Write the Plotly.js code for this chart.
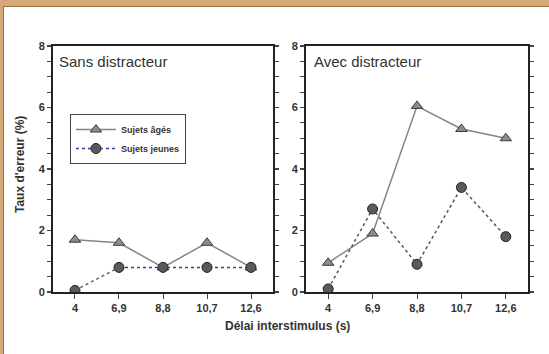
<!DOCTYPE html>
<html>
<head>
<meta charset="utf-8">
<script src="https://cdn.plot.ly/plotly-3.0.1.min.js"></script>
<style>
html,body{margin:0;padding:0;background:#D4A877;width:549px;height:354px;overflow:hidden;}
#wrap{position:absolute;left:3px;top:6px;width:546px;height:348px;background:#fff;border-top:1px solid #9c7040;border-left:1px solid #9c7040;}
#plot{position:absolute;left:0;top:0;width:545px;height:347px;}
</style>
</head>
<body>
<div id="wrap"><div id="plot"></div></div>
<script>
const categories = ["4", "6,9", "8,8", "10,7", "12,6"];
const sansAges = [1.7, 1.6, 0.8, 1.6, 0.8];
const sansJeunes = [0.05, 0.8, 0.8, 0.8, 0.8];
const avecAges = [0.95, 1.9, 6.05, 5.3, 5.0];
const avecJeunes = [0.1, 2.7, 0.9, 3.4, 1.8];
const yTicks = [0, 2, 4, 6, 8];
const yMinorTicks = [0.5, 1, 1.5, 2.5, 3, 3.5, 4.5, 5, 5.5, 6.5, 7, 7.5];
const legendNames = ["Sujets âgés", "Sujets jeunes"];
const panelTitles = ["Sans distracteur", "Avec distracteur"];
const xTitle = "Délai interstimulus (s)";
const yTitle = "Taux d'erreur (%)";

const triMarker = {symbol: "triangle-up", size: 10, color: "#8c8c8c", line: {color: "#3a3a3a", width: 1}};
const circMarker = {symbol: "circle", size: 10, color: "#5a5a5a", line: {color: "#222", width: 1}};

const traces = [
  {x: categories, y: sansAges, xaxis: "x", yaxis: "y", mode: "lines+markers", name: legendNames[0],
   line: {color: "#858585", width: 1.5}, marker: triMarker},
  {x: categories.slice(0, 2), y: sansJeunes.slice(0, 2), xaxis: "x", yaxis: "y", mode: "lines", showlegend: false,
   line: {color: "#666", width: 1.5, dash: "dot"}, hoverinfo: "skip"},
  {x: categories.slice(1), y: sansJeunes.slice(1), xaxis: "x", yaxis: "y", mode: "lines", showlegend: false,
   line: {color: "#3a3aa8", width: 1.5, dash: "dot"}},
  {x: categories, y: sansJeunes, xaxis: "x", yaxis: "y", mode: "markers", name: legendNames[1], showlegend: false,
   marker: circMarker},
  {x: [null], y: [null], xaxis: "x", yaxis: "y", mode: "lines+markers", name: legendNames[1],
   line: {color: "#3a3aa8", width: 1.5, dash: "dot"}, marker: circMarker},
  {x: categories, y: avecAges, xaxis: "x2", yaxis: "y2", mode: "lines+markers", showlegend: false,
   line: {color: "#858585", width: 1.5}, marker: triMarker},
  {x: categories, y: avecJeunes, xaxis: "x2", yaxis: "y2", mode: "lines+markers", showlegend: false,
   line: {color: "#555", width: 1.5, dash: "dot"}, marker: circMarker}
];

const fam = "Liberation Sans, Arial, sans-serif";
const tickFont = {family: fam, size: 11, color: "#333", weight: "bold"};
const yDom = [0.1787, 0.8876];
const yAllTicks = yTicks.concat(yMinorTicks);
const yAllText = yTicks.map(String).concat(yMinorTicks.map(() => ""));
function xax(dom) {
  return {domain: dom, type: "category", range: [-0.5, 4.5], showgrid: false, zeroline: false,
    showline: true, linecolor: "#222", linewidth: 2, mirror: true, ticks: "outside", ticklen: 5,
    tickcolor: "#444", tickwidth: 1, tickfont: tickFont, fixedrange: true};
}
function yax(anchor) {
  return {domain: yDom, anchor: anchor, range: [0, 8], tickmode: "array", tickvals: yAllTicks, ticktext: yAllText,
    showgrid: false, zeroline: false,
    showline: true, linecolor: "#222", linewidth: 2, mirror: "ticks", ticks: "outside", ticklen: 4,
    tickcolor: "#444", tickwidth: 1.2, tickfont: tickFont};
}

const layout = {
  width: 545, height: 347,
  margin: {l: 0, r: 0, t: 0, b: 0},
  paper_bgcolor: "#fff", plot_bgcolor: "#fff",
  showlegend: true,
  xaxis: Object.assign(xax([0.0899, 0.4936]), {anchor: "y"}),
  yaxis: yax("x"),
  xaxis2: Object.assign(xax([0.5541, 0.9615]), {anchor: "y2"}),
  yaxis2: yax("x2"),
  legend: {x: 0.121, y: 0.6916, xanchor: "left", yanchor: "top", bgcolor: "#fff",
    bordercolor: "#444", borderwidth: 1, font: {family: fam, size: 9, color: "#333", weight: "bold"},
    tracegroupgap: 0, itemwidth: 40},
  annotations: [
    {text: panelTitles[0], xref: "paper", yref: "paper", x: 0.097, y: 0.8415, xanchor: "left", yanchor: "middle",
     showarrow: false, font: {family: fam, size: 15, color: "#333"}},
    {text: panelTitles[1], xref: "paper", yref: "paper", x: 0.565, y: 0.8415, xanchor: "left", yanchor: "middle",
     showarrow: false, font: {family: fam, size: 15, color: "#333"}},
    {text: xTitle, xref: "paper", yref: "paper", x: 0.521, y: 0.0807, xanchor: "center", yanchor: "middle",
     showarrow: false, font: {family: fam, size: 12, color: "#333", weight: "bold"}},
    {text: yTitle, xref: "paper", yref: "paper", x: 0.0294, y: 0.5447, xanchor: "center", yanchor: "middle",
     textangle: -90, showarrow: false, font: {family: fam, size: 12, color: "#333", weight: "bold"}}
  ]
};

Plotly.newPlot("plot", traces, layout, {displayModeBar: false, staticPlot: true});
</script>
</body>
</html>
